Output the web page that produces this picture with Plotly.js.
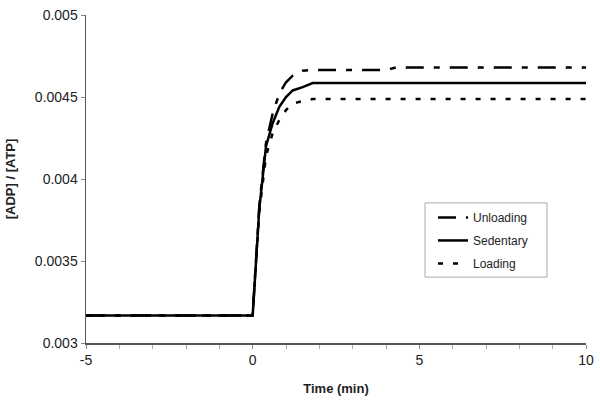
<!DOCTYPE html>
<html>
<head>
<meta charset="utf-8">
<script src="https://cdn.plot.ly/plotly-3.0.1.min.js"></script>
<style>html,body{margin:0;padding:0;background:#fff;}#chart{width:600px;height:404px;}</style>
</head>
<body>
<div id="chart"></div>
<script>
// Time (min)
var unloadingTime = [-5, 0, 0.2, 0.4, 0.6, 0.8, 1.0, 1.2, 1.5, 1.8, 4.0, 4.3, 10];
var unloadingVal  = [0.003168, 0.003168, 0.00384, 0.00422, 0.00440, 0.00452, 0.00459, 0.00463, 0.00466, 0.004665, 0.004665, 0.00468, 0.00468];

var sedentaryTime = [-5, 0, 0.2, 0.4, 0.6, 0.8, 1.0, 1.2, 1.5, 1.8, 10];
var sedentaryVal  = [0.003168, 0.003168, 0.00382, 0.00420, 0.00434, 0.00444, 0.00450, 0.00454, 0.00456, 0.004585, 0.004585];

var loadingTime = [-5, 0, 0.2, 0.4, 0.6, 0.8, 1.0, 1.2, 1.5, 1.8, 10];
var loadingVal  = [0.003168, 0.003168, 0.00380, 0.00414, 0.00428, 0.00436, 0.00442, 0.00446, 0.004475, 0.004488, 0.004488];

var seriesNames = ["Unloading", "Sedentary", "Loading"];
var xTickVals = [-5, 0, 5, 10];
var xTickText = ["-5", "0", "5", "10"];
var yTickVals = [0.003, 0.0035, 0.004, 0.0045, 0.005];
var yTickText = ["0.003", "0.0035", "0.004", "0.0045", "0.005"];

var traces = [
  {x: unloadingTime, y: unloadingVal, name: seriesNames[0], legendgroup: "u", mode: "lines",
   line: {color: "#000", width: 2.5, dash: "18px,10px,6px,10px"}},
  {x: sedentaryTime, y: sedentaryVal, name: seriesNames[1], legendgroup: "s", mode: "lines",
   line: {color: "#000", width: 2.5}},
  {x: loadingTime, y: loadingVal, name: seriesNames[2], legendgroup: "l", mode: "lines",
   line: {color: "#000", width: 2.5, dash: "5px,10px"}}
];

var layout = {
  width: 600, height: 404,
  margin: {l: 86, r: 14, t: 15, b: 61},
  paper_bgcolor: "#fff", plot_bgcolor: "#fff",
  font: {family: "Liberation Sans, Arial, sans-serif", color: "#222"},
  showlegend: true,
  legend: {
    x: 0.694, y: 0.427, xanchor: "left", yanchor: "top",
    borderwidth: 0, bgcolor: "rgba(0,0,0,0)",
    font: {size: 12, color: "#222"}, tracegroupgap: 4, itemwidth: 30
  },
  shapes: [{
    type: "rect", xref: "paper", yref: "paper",
    x0: 0.678, x1: 0.922, y0: 0.201, y1: 0.427,
    line: {color: "#aaa", width: 1}, fillcolor: "rgba(0,0,0,0)", layer: "above"
  }],
  xaxis: {
    range: [-5, 10], tickvals: xTickVals, ticktext: xTickText, ticks: "outside", ticklen: 4,
    tickcolor: "#888", showgrid: false, zeroline: false, showline: true,
    linecolor: "#555", linewidth: 1.5,
    tickfont: {size: 14, color: "#222"},
    minor: {dtick: 1, ticks: "outside", ticklen: 4, tickcolor: "#aaa", showgrid: false},
    title: {text: "<b>Time (min)</b>", font: {size: 13, color: "#222"}, standoff: 16}
  },
  yaxis: {
    range: [0.003, 0.005], tickvals: yTickVals, ticktext: yTickText,
    ticks: "outside", ticklen: 4, tickcolor: "#888",
    showgrid: false, zeroline: false, showline: true,
    linecolor: "#555", linewidth: 1.5,
    tickfont: {size: 14, color: "#222"},
    title: {text: "<b>[ADP] / [ATP]</b>", font: {size: 13, color: "#222"}, standoff: 16}
  }
};

Plotly.newPlot("chart", traces, layout, {displayModeBar: false, staticPlot: true});
</script>
</body>
</html>
